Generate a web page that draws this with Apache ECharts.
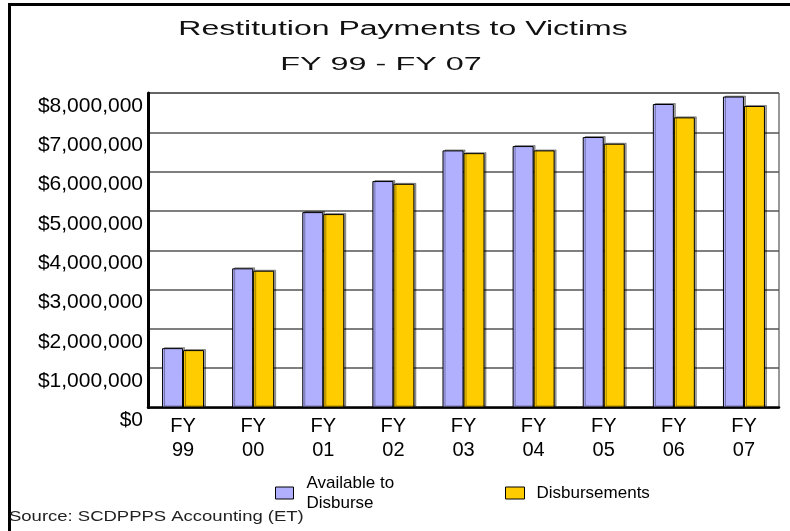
<!DOCTYPE html>
<html>
<head>
<meta charset="utf-8">
<script src="https://cdn.jsdelivr.net/npm/echarts@6/dist/echarts.min.js"></script>
<style>
  html, body { margin: 0; padding: 0; background: #fff; }
  #chart { width: 790px; height: 531px; }
</style>
</head>
<body>
<div id="chart"></div>
<script>
// fiscal years on the x axis
const years = ['FY 99', 'FY 00', 'FY 01', 'FY 02', 'FY 03', 'FY 04', 'FY 05', 'FY 06', 'FY 07']
// dollars
const availableToDisburse = [1510000, 3540000, 4970000, 5760000, 6540000, 6650000, 6880000, 7720000, 7910000]
const disbursements = [1460000, 3480000, 4920000, 5690000, 6470000, 6540000, 6710000, 7380000, 7670000]

const FONT = 'Arial, "Liberation Sans", sans-serif'
const barShadow = { shadowColor: 'rgba(0,0,0,0.35)', shadowOffsetX: 2, shadowOffsetY: -1, shadowBlur: 0 }

const chart = echarts.init(document.getElementById('chart'))

const option = {
  animation: false,
  backgroundColor: '#fff',
  graphic: [
    {
      type: 'rect', silent: true,
      shape: { x: 9.5, y: 4.5, width: 900, height: 700 },
      style: { fill: 'none', stroke: '#000', lineWidth: 3 }
    },
    {
      type: 'text', x: 403, y: 29, scaleX: 1.6,
      style: { text: 'Restitution Payments to Victims', font: '20px ' + FONT, fill: '#111',
        textAlign: 'center', textVerticalAlign: 'middle', align: 'center', verticalAlign: 'middle' }
    },
    {
      type: 'text', x: 381, y: 65, scaleX: 1.85,
      style: { text: 'FY 99 - FY 07', font: '17.5px ' + FONT, fill: '#111',
        textAlign: 'center', textVerticalAlign: 'middle', align: 'center', verticalAlign: 'middle' }
    },
    {
      type: 'text', x: 9, y: 517, scaleX: 1.32,
      style: { text: 'Source: SCDPPPS Accounting (ET)', font: '14px ' + FONT, fill: '#222',
        textAlign: 'left', textVerticalAlign: 'middle', align: 'left', verticalAlign: 'middle' }
    }
  ],
  legend: [
    {
      left: 275, top: 473, padding: 0,
      data: ['Available to Disburse'],
      icon: 'rect', itemWidth: 18, itemHeight: 12,
      formatter: () => 'Available to\nDisburse',
      textStyle: { fontFamily: FONT, fontSize: 17, color: '#000', lineHeight: 20, padding: [0, 0, 0, 8] },
      itemStyle: { borderColor: '#000', borderWidth: 1 }
    },
    {
      left: 505, top: 483, padding: 0,
      data: ['Disbursements'],
      icon: 'rect', itemWidth: 19, itemHeight: 12,
      textStyle: { fontFamily: FONT, fontSize: 17, color: '#000', lineHeight: 20, padding: [0, 0, 0, 7] },
      itemStyle: { borderColor: '#000', borderWidth: 1 }
    }
  ],
  grid: {
    left: 148, right: 11, top: 93, bottom: 123.5,
    show: true, borderColor: '#333', borderWidth: 1, backgroundColor: '#fff'
  },
  xAxis: {
    type: 'category',
    data: years,
    axisLine: { show: true, lineStyle: { color: '#000', width: 2.5 } },
    axisTick: { show: false },
    axisLabel: {
      margin: 7,
      fontFamily: FONT, fontSize: 20, color: '#000', lineHeight: 24,
      formatter: v => v.replace(' ', '\n')
    }
  },
  yAxis: {
    type: 'value',
    min: 0, max: 8000000, interval: 1000000,
    axisLine: { show: true, lineStyle: { color: '#000', width: 3 } },
    axisTick: { show: false },
    splitLine: { lineStyle: { color: '#555', width: 1.5 } },
    axisLabel: {
      margin: 5,
      showMinLabel: true, showMaxLabel: true, hideOverlap: false,
      fontFamily: FONT, fontSize: 21, color: '#000',
      lineHeight: 26, verticalAlign: 'top',
      formatter: v => '$' + v.toLocaleString('en-US')
    }
  },
  series: [
    {
      name: 'Available to Disburse',
      type: 'bar',
      data: availableToDisburse,
      barWidth: 21,
      barGap: '0%',
      itemStyle: Object.assign({ color: '#B0B0FF', borderColor: '#000', borderWidth: 1 }, barShadow)
    },
    {
      name: 'Disbursements',
      type: 'bar',
      data: disbursements,
      barWidth: 21,
      barGap: '0%',
      itemStyle: Object.assign({ color: '#FFCC00', borderColor: '#000', borderWidth: 1 }, barShadow)
    }
  ]
}

chart.setOption(option)
</script>
</body>
</html>
